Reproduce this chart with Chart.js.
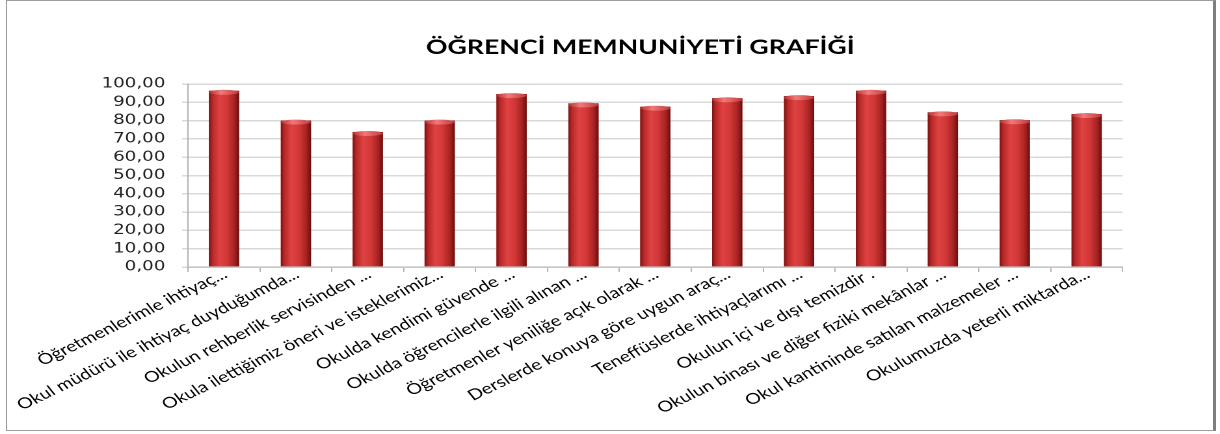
<!DOCTYPE html>
<html>
<head>
<meta charset="utf-8">
<script src="https://cdn.jsdelivr.net/npm/chart.js@4"></script>
<style>
  html, body { margin: 0; padding: 0; background: #fff; overflow: hidden; }
  /* the source picture is stretched sideways, so the chart is drawn narrower and widened */
  #wrap { position: absolute; left: 0; top: 0; width: 938px; height: 434px;
          transform: scaleX(1.30064); transform-origin: 0 0; }
  #frame { position: absolute; left: 6px; top: 0; width: 1206px; height: 429px;
           border: 1.5px solid #9c9c9c; border-right: 3px solid #7e7e7e;
           pointer-events: none; }
</style>
</head>
<body>
<div id="wrap"><canvas id="chart" width="938" height="434" style="width:938px;height:434px"></canvas></div>
<div id="frame"></div>
<script>
// Survey questions (as truncated on the axis)
const questions = [
  'Öğretmenlerimle ihtiyaç...',
  'Okul müdürü ile ihtiyaç duyduğumda...',
  'Okulun rehberlik servisinden ...',
  'Okula ilettiğimiz öneri ve isteklerimiz...',
  'Okulda kendimi güvende ...',
  'Okulda öğrencilerle ilgili alınan ...',
  'Öğretmenler yeniliğe açık olarak ...',
  'Derslerde konuya göre uygun araç...',
  'Teneffüslerde ihtiyaçlarımı ...',
  'Okulun içi ve dışı temizdir .',
  'Okulun binası ve diğer fiziki mekânlar ...',
  'Okul kantininde satılan malzemeler ...',
  'Okulumuzda yeterli miktarda...',
];

// Satisfaction score per question (%)
const satisfaction = [96.3, 80.0, 73.8, 80.0, 94.5, 89.4, 87.6, 92.2, 93.4, 96.3, 84.5, 80.2, 83.6];

// Y axis ticks
const yMin = 0;
const yMax = 100;
const yStep = 10;

// Give each bar the shaded cylinder look
const cylinderBars = {
  id: 'cylinderBars',
  afterDatasetsDraw(chart) {
    const ctx = chart.ctx;
    const meta = chart.getDatasetMeta(0);
    meta.data.forEach((bar) => {
      const { x, y, base, width } = bar.getProps(['x', 'y', 'base', 'width'], true);
      const left = x - width / 2;
      const right = x + width / 2;

      const grad = ctx.createLinearGradient(left, 0, right, 0);
      grad.addColorStop(0, '#7a1212');
      grad.addColorStop(0.12, '#b82828');
      grad.addColorStop(0.35, '#df4242');
      grad.addColorStop(0.6, '#d23838');
      grad.addColorStop(0.85, '#a62222');
      grad.addColorStop(1, '#680e0e');

      ctx.save();
      ctx.fillStyle = grad;
      ctx.fillRect(left, y, width, base - y);

      // top cap
      const capGrad = ctx.createLinearGradient(left, 0, right, 0);
      capGrad.addColorStop(0, '#b83030');
      capGrad.addColorStop(0.4, '#f27a7a');
      capGrad.addColorStop(1, '#c03a3a');
      ctx.fillStyle = capGrad;
      ctx.beginPath();
      ctx.ellipse(x, y + 1.5, width / 2, 2.5, 0, 0, Math.PI * 2);
      ctx.fill();
      ctx.restore();
    });
  },
};

function initChart() {
  const ctx = document.getElementById('chart').getContext('2d');
  new Chart(ctx, {
    type: 'bar',
    data: {
      labels: questions,
      datasets: [
        {
          data: satisfaction,
          backgroundColor: '#c8312f',
          borderWidth: 0,
          categoryPercentage: 1,
          barPercentage: 0.42,
        },
      ],
    },
    options: {
      responsive: false,
      devicePixelRatio: 2,
      animation: false,
      layout: {
        padding: { left: 46.6, right: 0, top: 0, bottom: 0 },
      },
      plugins: {
        legend: { display: false },
        tooltip: { enabled: false },
        title: {
          display: true,
          text: 'ÖĞRENCİ MEMNUNİYETİ GRAFİĞİ',
          color: '#000',
          font: { family: 'Lato', size: 20.5, weight: 'bold' },
          padding: { top: 35, bottom: 24.4 },
        },
      },
      scales: {
        x: {
          grid: {
            offset: true,
            drawOnChartArea: false,
            color: '#b4b4b4',
            tickLength: 5,
          },
          border: { color: '#b4b4b4', width: 1 },
          ticks: {
            autoSkip: false,
            maxRotation: 32,
            minRotation: 32,
            labelOffset: 1,
            padding: -7,
            color: '#000',
            font: { family: 'Lato', size: 15 },
          },
          afterFit(scale) {
            scale.height = 167;
            scale.paddingLeft = 0;
            scale.paddingRight = 0;
          },
        },
        y: {
          min: yMin,
          max: yMax,
          grid: {
            color: '#d9d9d9',
            lineWidth: 1.5,
            tickLength: 4.5,
          },
          border: { color: '#b4b4b4', width: 1 },
          ticks: {
            autoSkip: false,
            stepSize: yStep,
            padding: 13,
            color: '#222',
            font: { family: 'DejaVu Sans', size: 14 },
            callback: (value) => value.toFixed(2).replace('.', ','),
          },
          afterFit(scale) {
            scale.width = 98;
          },
        },
        // empty box keeping the space to the right of the plot
        yRight: {
          position: 'right',
          grid: { display: false },
          border: { display: false },
          ticks: { display: false },
          afterFit(scale) {
            scale.width = 74.9;
          },
        },
      },
    },
    plugins: [cylinderBars],
  });
}

document.addEventListener('DOMContentLoaded', initChart);
</script>
</body>
</html>
